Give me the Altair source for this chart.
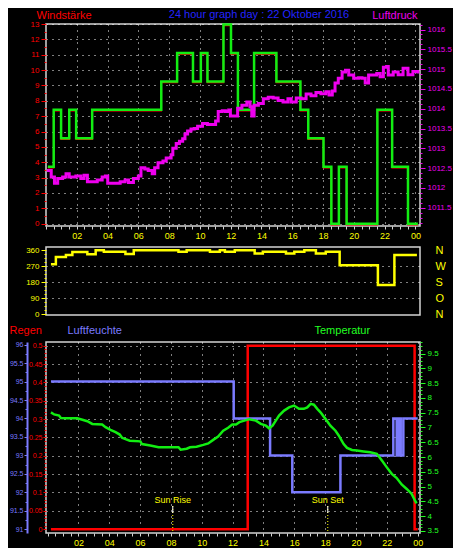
import altair as alt
import pandas as pd

FONT = "Liberation Sans"
RED = "#ff0000"
GREEN = "#12ee12"
MAGENTA = "#ee00ee"
YELLOW = "#ffff00"
BLUE = "#2424ff"
LAV = "#7b7bff"
FRAME = "#d4d4d4"

# ---------------- data ----------------
hour_ticks = [i * 0.5 for i in range(49)]

wind_t = [0.12, 0.5, 0.98, 1.51, 1.96, 3.0, 7.49, 8.52, 9.55, 10.06, 10.49, 11.53, 12.02,
          12.47, 13.52, 14.97, 16.53, 17.04, 18.03, 18.54, 19.03, 19.53, 21.53, 22.49, 23.52, 24.16]
wind_v = [3.7, 7.41, 5.56, 7.41, 5.56, 7.41, 9.26, 11.11, 9.26, 11.11, 9.26, 12.96, 11.11,
          7.41, 11.11, 9.26, 7.41, 5.56, 3.7, 0, 3.7, 0, 7.41, 3.7, 0, 0]

press_t = [0.06, 0.34, 0.55, 0.76, 1.08, 1.3, 1.51, 1.94, 2.26, 2.47,
           2.69, 3.0, 3.33, 3.65, 3.86, 4.01, 4.4, 4.82, 5.14, 5.36,
           5.68, 6.0, 6.17, 6.42, 6.64, 6.9, 7.06, 7.28, 7.6, 7.81,
           8.13, 8.24, 8.46, 8.67, 8.88, 9.03, 9.2, 9.42, 9.63, 9.85,
           10.17, 10.49, 10.91, 11.02, 11.19, 11.45, 11.66, 11.87, 11.98, 12.3,
           12.45, 12.73, 13.05, 13.26, 13.37, 13.52, 13.8, 14.12, 14.44, 14.76,
           15.08, 15.4, 15.72, 15.93, 16.26, 16.58, 16.9, 17.22, 17.54, 17.86,
           18.18, 18.39, 18.6, 18.78, 18.99, 19.24, 19.46, 19.67, 19.99, 20.31,
           20.53, 20.74, 20.96, 21.28, 21.49, 21.71, 21.92, 22.13, 22.24, 22.56,
           22.88, 23.2, 23.52, 23.84, 24.16]
press_v = [1012.44, 1012.28, 1012.12, 1012.24, 1012.28, 1012.36, 1012.28, 1012.3, 1012.24, 1012.32,
           1012.16, 1012.16, 1012.2, 1012.28, 1012.3, 1012.12, 1012.12, 1012.16, 1012.2, 1012.14,
           1012.24, 1012.3, 1012.51, 1012.48, 1012.44, 1012.36, 1012.51, 1012.64, 1012.68, 1012.76,
           1012.84, 1013.0, 1013.12, 1013.18, 1013.24, 1013.36, 1013.44, 1013.49, 1013.5, 1013.56,
           1013.63, 1013.6, 1013.6, 1013.69, 1013.93, 1013.95, 1013.93, 1013.97, 1013.82, 1013.82,
           1014.01, 1014.09, 1014.17, 1014.05, 1013.82, 1014.09, 1014.13, 1014.25, 1014.29, 1014.27,
           1014.21, 1014.17, 1014.25, 1014.17, 1014.27, 1014.25, 1014.37, 1014.33, 1014.41, 1014.38,
           1014.43, 1014.35, 1014.45, 1014.65, 1014.77, 1014.93, 1014.97, 1014.85, 1014.77, 1014.78,
           1014.77, 1014.65, 1014.85, 1014.85, 1014.89, 1014.81, 1015.05, 1015.07, 1014.85, 1014.93,
           1014.86, 1015.02, 1014.86, 1014.94, 1014.89]

dir_t = [0.22, 0.54, 1.19, 1.61, 2.58, 3.12, 3.65, 5.05, 5.59, 8.49, 9.02, 10.53, 11.17,
         11.5, 12.14, 13.43, 13.96, 15.46, 16.0, 16.65, 17.4, 18.04, 18.94, 21.42, 22.49, 23.95]
dir_v = [281, 322, 333, 350, 337, 360, 352, 338, 360, 352, 360, 352, 360,
         352, 360, 341, 352, 341, 352, 360, 341, 352, 276, 165, 333, 333]

rain_t = [0.22, 12.98, 23.8, 24.0]
rain_v = [0.0, 0.5, 0.0, 0.0]

hum_t = [0.22, 12.07, 14.43, 15.87, 18.99, 22.42, 22.64, 22.75, 22.9, 23.07, 24.0]
hum_v = [95, 94, 93, 92, 93, 94, 93, 94, 93, 94, 94]

temp_t = [0.22, 0.43, 0.75, 0.86, 1.29, 1.93, 2.26, 2.58, 2.9, 3.54,
          3.76, 4.08, 4.41, 4.68, 4.83, 5.33, 6.02, 6.12, 6.66, 7.2,
          7.95, 8.49, 8.63, 9.02, 9.24, 9.66, 10.1, 10.42, 10.74, 11.06,
          11.39, 11.71, 11.98, 12.22, 12.44, 12.76, 13.08, 13.51, 13.83, 14.16,
          14.37, 14.59, 14.8, 15.01, 15.34, 15.66, 15.98, 16.3, 16.62, 16.84,
          17.06, 17.27, 17.49, 17.7, 18.02, 18.34, 18.67, 18.88, 19.2, 19.42,
          19.74, 20.06, 20.49, 20.92, 21.35, 21.68, 22.0, 22.32, 22.64, 22.96,
          23.29, 23.61, 23.82, 23.93]
temp_v = [7.51, 7.44, 7.40, 7.32, 7.31, 7.31, 7.26, 7.21, 7.12, 7.10,
          7.01, 6.92, 6.84, 6.76, 6.65, 6.55, 6.53, 6.44, 6.39, 6.33,
          6.33, 6.33, 6.25, 6.28, 6.33, 6.35, 6.41, 6.46, 6.58, 6.69,
          6.89, 6.99, 7.10, 7.10, 7.18, 7.23, 7.28, 7.23, 7.12, 7.06,
          6.97, 7.06, 7.23, 7.40, 7.57, 7.68, 7.74, 7.63, 7.63, 7.68,
          7.80, 7.77, 7.63, 7.51, 7.29, 7.06, 6.89, 6.73, 6.44, 6.31,
          6.24, 6.22, 6.19, 6.16, 6.11, 5.88, 5.65, 5.43, 5.29, 5.07,
          4.92, 4.75, 4.53, 4.43]

sun_t = [8.12, 18.17]
sun_txt = ["Sun Rise", "Sun Set"]

compass_deg = [0, 90, 180, 270, 360]
compass_txt = ["N", "O", "S", "W", "N"]

title_txt = "24 hour graph day : 22 Oktober 2016"

wind_df = pd.DataFrame({"t": wind_t, "v": wind_v})
press_df = pd.DataFrame({"t": press_t, "v": press_v})
dir_df = pd.DataFrame({"t": dir_t, "v": dir_v})
rain_df = pd.DataFrame({"t": rain_t, "v": rain_v})
hum_df = pd.DataFrame({"t": hum_t, "v": hum_v})
temp_df = pd.DataFrame({"t": temp_t, "v": temp_v})
sun_df = pd.DataFrame({"t": sun_t, "txt": sun_txt})
title_df = pd.DataFrame({"s": [title_txt]})

W = 374
H_TOP, H_MID, H_BOT = 202, 68, 191


def cond(test, a, b):
    return {"condition": {"test": test, "value": a}, "value": b}


HOUR_LABEL = ("(datum.value % 2 === 0 && datum.value > 0) ? "
              "(datum.value === 24 ? '00' : (datum.value < 10 ? '0' + datum.value : '' + datum.value)) : ''")


def x_enc(domain, labels=True):
    if labels:
        ax = alt.Axis(values=hour_ticks, labelExpr=HOUR_LABEL, title=None, labelColor=YELLOW,
                      labelFontSize=9, tickColor=FRAME, tickSize=3, labelPadding=2,
                      labelOverlap=False, labelFlush=False, grid=True,
                      gridOpacity=cond("datum.value % 2 === 0 && datum.value > 0", 1, 0))
    else:
        ax = alt.Axis(values=hour_ticks, labels=False, ticks=False, grid=False, title=None)
    return alt.X("t:Q", scale=alt.Scale(domain=domain, nice=False, zero=False), axis=ax)


title_common = dict(titleAngle=0, titleFontSize=11, titleFontWeight="normal", titleFont=FONT,
                    titleBaseline="alphabetic")

# ---------------- top panel ----------------
xt = x_enc([0, 24.3])
wind_scale = alt.Scale(domain=[-0.15, 13], nice=False, zero=False)
press_scale = alt.Scale(domain=[1011.04, 1016.14], nice=False, zero=False)

wind_axis = alt.Axis(values=[i * 0.5 for i in range(27)], orient="left",
                     labelExpr="datum.value % 1 === 0 ? format(datum.value, 'd') : ''",
                     labelColor=RED, tickColor=RED, labelFontSize=8, labelPadding=2,
                     tickSize=cond("datum.value % 1 === 0", 5, 2), grid=True,
                     gridOpacity=cond("datum.value % 1 === 0", 1, 0),
                     title="Windstärke", titleColor=RED, titleX=-10, titleY=-6, titleAlign="left",
                     **title_common)
press_axis = alt.Axis(values=[round(1011 + i * 0.125, 3) for i in range(42)], orient="right",
                      labelExpr="(datum.value * 2) % 1 === 0 && datum.value > 1011 ? format(datum.value, '.1~f') : ''",
                      labelColor=MAGENTA, tickColor=MAGENTA, labelFontSize=8, labelPadding=2,
                      tickSize=cond("(datum.value * 2) % 1 === 0", 5, 2), grid=False,
                      title="Luftdruck", titleColor=MAGENTA, titleX=-3, titleY=-6, titleAlign="right",
                      **title_common)

wind_red = alt.Chart(wind_df).mark_line(color=RED, strokeWidth=1.5, interpolate="step-after",
                                        yOffset=1).encode(
    x=xt, y=alt.Y("v:Q", scale=wind_scale, axis=None))
wind_green = alt.Chart(wind_df).mark_line(color=GREEN, strokeWidth=2.5, interpolate="step-after").encode(
    x=xt, y=alt.Y("v:Q", scale=wind_scale, axis=wind_axis))
press_line = alt.Chart(press_df).mark_line(color=MAGENTA, strokeWidth=3, interpolate="step-after").encode(
    x=xt, y=alt.Y("v:Q", scale=press_scale, axis=press_axis))
title_mark = alt.Chart(title_df).mark_text(color=BLUE, font=FONT, fontSize=11, align="center",
                                           baseline="alphabetic").encode(
    x=alt.value(213), y=alt.value(-6), text="s:N")

top = alt.layer(wind_red, wind_green, press_line, title_mark).resolve_scale(
    y="independent").properties(width=W, height=H_TOP)

# ---------------- middle panel ----------------
xm = x_enc([-0.1, 24.15], labels=False)
dir_scale = alt.Scale(domain=[-4, 378], nice=False, zero=False)
dir_axis = alt.Axis(values=[i * 22.5 for i in range(17)], orient="left",
                    labelExpr="datum.value % 90 === 0 ? format(datum.value, 'd') : ''",
                    labelColor=YELLOW, tickColor=YELLOW, labelFontSize=8, labelPadding=2,
                    tickSize=cond("datum.value % 90 === 0", 5, 2), grid=True,
                    gridOpacity=cond("datum.value % 90 === 0 && datum.value > 0 && datum.value < 360", 1, 0),
                    title=None)
compass_expr = "".join(
    f"datum.value === {d} ? '{s}' : " for d, s in zip(compass_deg, compass_txt)) + "''"
compass_axis = alt.Axis(values=compass_deg, orient="right", labelExpr=compass_expr,
                        labelColor=YELLOW, labelFontSize=11, labelPadding=15, ticks=False,
                        grid=False, title=None, labelFont=FONT)

dir_line = alt.Chart(dir_df).mark_line(color=YELLOW, strokeWidth=2.5, interpolate="step-after").encode(
    x=xm, y=alt.Y("v:Q", scale=dir_scale, axis=dir_axis))
dir_ghost = alt.Chart(dir_df).mark_line(opacity=0).encode(
    x=xm, y=alt.Y("v:Q", scale=dir_scale, axis=compass_axis))
mid = alt.layer(dir_line, dir_ghost).resolve_scale(y="independent").properties(width=W, height=H_MID)

# ---------------- bottom panel ----------------
xb = x_enc([-0.1, 24.15])
rain_scale = alt.Scale(domain=[-0.0104, 0.51], nice=False, zero=False)
hum_scale = alt.Scale(domain=[90.9, 96.07], nice=False, zero=False)
temp_scale = alt.Scale(domain=[3.43, 9.89], nice=False, zero=False)

rain_axis = alt.Axis(values=[round(i * 0.01, 2) for i in range(51)], orient="left",
                     labelExpr="round(datum.value * 100) % 5 === 0 ? format(datum.value, '.2~f') : ''",
                     labelColor=RED, tickColor=RED, labelFontSize=7, labelPadding=1,
                     tickSize=cond("round(datum.value * 100) % 5 === 0", 3, 2), grid=True,
                     gridOpacity=cond("round(datum.value * 100) % 5 === 0 && datum.value > 0", 1, 0),
                     title="Regen", titleColor=RED, titleX=-37, titleY=-9, titleAlign="left",
                     **title_common)
hum_axis = alt.Axis(values=[round(91 + i * 0.25, 2) for i in range(21)], orient="left", offset=19,
                    labelExpr="(datum.value * 2) % 1 === 0 ? format(datum.value, '.1~f') : ''",
                    labelColor=LAV, tickColor=LAV, labelFontSize=7, labelPadding=1,
                    tickSize=cond("(datum.value * 2) % 1 === 0", 3, 2), grid=False,
                    domain=True, domainColor=LAV, domainWidth=2,
                    title="Luftfeuchte", titleColor=LAV, titleX=40, titleY=-9, titleAlign="left",
                    **title_common)
temp_axis = alt.Axis(values=[round(3.5 + i * 0.125, 3) for i in range(52)], orient="right",
                     labelExpr="(datum.value * 2) % 1 === 0 ? format(datum.value, '.1~f') : ''",
                     labelColor="#22ff22", tickColor="#22ff22", labelFontSize=8, labelPadding=2,
                     tickSize=cond("(datum.value * 2) % 1 === 0", 5, 2), grid=False,
                     title="Temperatur", titleColor="#22ff22", titleX=-106, titleY=-9, titleAlign="left",
                     **title_common)

hum_line = alt.Chart(hum_df).mark_line(color=LAV, strokeWidth=2.5, interpolate="step-after").encode(
    x=xb, y=alt.Y("v:Q", scale=hum_scale, axis=hum_axis))
temp_line = alt.Chart(temp_df).mark_line(color=GREEN, strokeWidth=2.5).encode(
    x=xb, y=alt.Y("v:Q", scale=temp_scale, axis=temp_axis))
rain_line = alt.Chart(rain_df).mark_line(color=RED, strokeWidth=2.5, interpolate="step-after").encode(
    x=xb, y=alt.Y("v:Q", scale=rain_scale, axis=rain_axis))
sun_rule = alt.Chart(sun_df).mark_rule(color=YELLOW, strokeWidth=1, strokeDash=[1, 2]).encode(
    x=xb, y=alt.value(164), y2=alt.value(H_BOT))
sun_tick = alt.Chart(sun_df).mark_rule(color="white", strokeWidth=1).encode(
    x=xb, y=alt.value(164), y2=alt.value(171))
sun_text = alt.Chart(sun_df).mark_text(color=YELLOW, font=FONT, fontSize=9, align="center",
                                       baseline="alphabetic").encode(
    x=xb, y=alt.value(161), text="txt:N")

bot = alt.layer(rain_line, hum_line, temp_line, sun_rule, sun_tick, sun_text).resolve_scale(
    y="independent").properties(width=W, height=H_BOT)

chart = alt.vconcat(top, mid, bot, spacing=2).properties(
    background="black", padding=0
).configure_view(stroke=FRAME, strokeWidth=1.5).configure_axis(
    labelFont=FONT, titleFont=FONT, domain=False, gridColor="#ffffff", gridDash=[1, 5],
    gridWidth=1, tickWidth=1
)

chart.save("out.html", embed_options={"renderer": "svg", "actions": False})
